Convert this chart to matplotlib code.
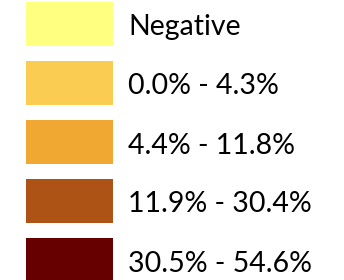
import numpy as np
import matplotlib.pyplot as plt

# legend classes
labels = ["Negative", "0.0% - 4.3%", "4.4% - 11.8%", "11.9% - 30.4%", "30.5% - 54.6%"]
colors = ["#FFFF80", "#FACC52", "#F0A832", "#AD5316", "#660000"]

fig = plt.figure(figsize=(3.44, 2.80), dpi=100)
ax = fig.add_axes([0, 0, 1, 1])

step = 59.0
pos = np.arange(len(labels))
ax.barh(pos, 87, left=26, height=44 / step, color=colors, edgecolor="none")

for i, lab in enumerate(labels):
    ax.text(128, i + 11.5 / step, lab, fontsize=20.5, family="Lato", color="black",
            va="baseline", ha="left")

ax.set_xlim(0, 344)
ax.set_ylim((280 - 24) / step, -24 / step)
ax.axis("off")

fig.savefig("out.png", dpi=100)
